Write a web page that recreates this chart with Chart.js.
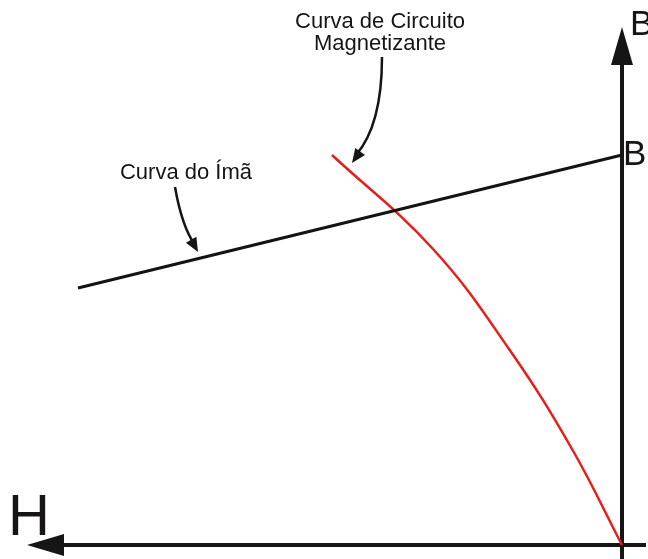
<!DOCTYPE html>
<html>
<head>
<meta charset="utf-8">
<script src="https://cdn.jsdelivr.net/npm/chart.js@4"></script>
<style>
  html, body { margin: 0; padding: 0; background: #fff; }
  #wrap { width: 648px; height: 559px; position: relative; }
</style>
</head>
<body>
<div id="wrap"><canvas id="bh"></canvas></div>
<script>
// H (negative = to the left of the B axis) and B values, in drawing units
const imaH = [-544, 0];
const imaB = [257, 390];
const circuitoH = [-290, -189, -113, -50, 0];
const circuitoB = [390, 296, 196, 96, 0];
const axisLabels = { h: 'H', b: 'B', br: 'B' };
const notes = ['Curva de Circuito', 'Magnetizante', 'Curva do Ímã'];

const FONT = '"Liberation Sans", Arial, sans-serif';

function toPts(xs, ys) {
    return xs.map((x, i) => ({ x: x, y: ys[i] }));
}

function arrowHead(ctx, tipX, tipY, fromX, fromY, len, half) {
    const a = Math.atan2(tipY - fromY, tipX - fromX);
    ctx.beginPath();
    ctx.moveTo(tipX, tipY);
    ctx.lineTo(tipX - len * Math.cos(a) + half * Math.sin(a), tipY - len * Math.sin(a) - half * Math.cos(a));
    ctx.lineTo(tipX - len * Math.cos(a) - half * Math.sin(a), tipY - len * Math.sin(a) + half * Math.cos(a));
    ctx.closePath();
    ctx.fill();
}

// axes with arrows, drawn under the curves
const axesPlugin = {
    id: 'axes',
    beforeDatasetsDraw(chart) {
        const ctx = chart.ctx;
        const xs = chart.scales.x, ys = chart.scales.y;
        const x0 = xs.getPixelForValue(0), y0 = ys.getPixelForValue(0);
        ctx.save();
        ctx.strokeStyle = '#161414';
        ctx.fillStyle = '#161414';
        ctx.lineWidth = 4;
        // horizontal H axis
        ctx.beginPath();
        ctx.moveTo(xs.getPixelForValue(-560), y0);
        ctx.lineTo(xs.getPixelForValue(24), y0);
        ctx.stroke();
        arrowHead(ctx, xs.getPixelForValue(-595), y0, x0, y0, 37, 11);
        // vertical B axis
        ctx.beginPath();
        ctx.moveTo(x0, ys.getPixelForValue(480));
        ctx.lineTo(x0, ys.getPixelForValue(-14));
        ctx.stroke();
        arrowHead(ctx, x0, ys.getPixelForValue(518), x0, y0, 38, 11);
        ctx.restore();
    },
    afterDraw(chart) {
        const ctx = chart.ctx;
        const xs = chart.scales.x, ys = chart.scales.y;
        const px = v => xs.getPixelForValue(v);
        const py = v => ys.getPixelForValue(v);
        ctx.save();
        ctx.fillStyle = '#161414';
        ctx.textBaseline = 'alphabetic';
        // axis letters
        ctx.textAlign = 'left';
        ctx.font = '58px ' + FONT;
        ctx.fillText(axisLabels.h, 8, py(10));
        ctx.font = '35px ' + FONT;
        ctx.fillText(axisLabels.b, px(8), py(510));
        ctx.fillText(axisLabels.br, px(1), py(380));
        // annotations
        ctx.textAlign = 'center';
        ctx.font = '22px ' + FONT;
        ctx.fillText(notes[0], px(-242), py(517));
        ctx.fillText(notes[1], px(-242), py(495));
        ctx.fillText(notes[2], px(-436), py(366));
        // curved pointer arrows
        ctx.strokeStyle = '#161414';
        ctx.lineWidth = 2.5;
        ctx.beginPath();
        ctx.moveTo(px(-240), py(488));
        ctx.quadraticCurveTo(px(-240), py(420), px(-266), py(390));
        ctx.stroke();
        arrowHead(ctx, px(-270), py(382), px(-250), py(410), 14, 6);
        ctx.beginPath();
        ctx.moveTo(px(-447), py(358));
        ctx.quadraticCurveTo(px(-440), py(318), px(-427), py(300));
        ctx.stroke();
        arrowHead(ctx, px(-424), py(293), px(-438), py(318), 14, 6);
        ctx.restore();
    }
};

new Chart(document.getElementById('bh'), {
    type: 'scatter',
    data: {
        datasets: [{
            label: 'Curva do Ímã',
            data: toPts(imaH, imaB),
            showLine: true,
            borderColor: '#141212',
            borderWidth: 3,
            pointRadius: 0
        }, {
            label: 'Curva de Circuito Magnetizante',
            data: toPts(circuitoH, circuitoB),
            showLine: true,
            borderColor: '#e3201b',
            borderWidth: 2.5,
            pointRadius: 0,
            tension: 0.4
        }]
    },
    options: {
        responsive: true,
        maintainAspectRatio: false,
        animation: false,
        layout: { padding: 0 },
        plugins: { legend: { display: false }, tooltip: { enabled: false } },
        scales: {
            x: { type: 'linear', min: -622, max: 26, display: false },
            y: { type: 'linear', min: -14, max: 545, display: false }
        }
    },
    plugins: [axesPlugin]
});
</script>
</body>
</html>
